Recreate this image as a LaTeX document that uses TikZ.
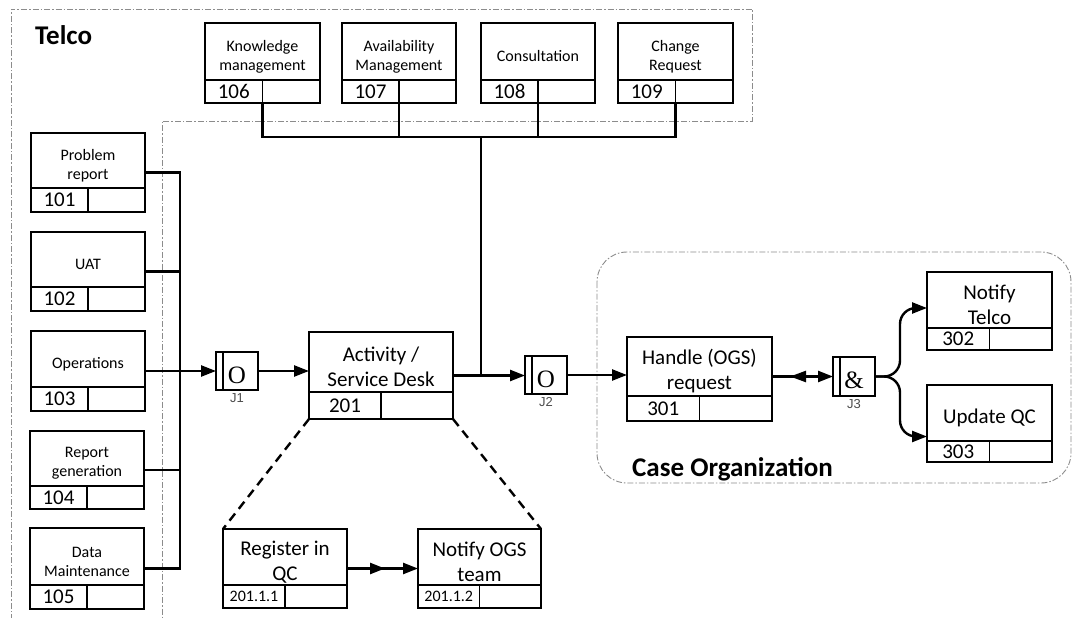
\documentclass[tikz,border=0pt]{standalone}
\usepackage{fontspec}
\setmainfont{Carlito}
\newfontfamily\jserif{Liberation Serif}
\newfontfamily\jsans{Liberation Sans}
\usetikzlibrary{arrows.meta,decorations.markings}
\newcommand\uobsmall{\fontsize{16}{19}\selectfont}
\newcommand\uobbig{\fontsize{21}{25}\selectfont}
\newcommand\uobsub{\fontsize{16}{19}\selectfont}
\tikzset{
 uob/.style={draw, line width=2.8pt, rectangle, inner sep=0pt, outer sep=0pt},
 divline/.style={line width=1.3pt},
 lab/.style={align=center, inner sep=0pt, font=\uobsmall},
 biglab/.style={lab, font=\uobbig},
 num/.style={inner sep=0pt, font=\uobbig},
 conn/.style={line width=2.4pt},
 arr/.style={-{Triangle[length=15pt,width=11pt]}},
 junc/.style={draw, line width=2.8pt, minimum width=42pt, minimum height=38pt, inner sep=0pt, outer sep=0pt},
 jsym/.style={font=\jserif\fontsize{25}{25}\selectfont, inner sep=0pt},
 jlab/.style={font=\jsans\fontsize{13}{13}\selectfont, text=black!70, inner sep=0pt, anchor=north},
 bound/.style={draw=black!45, line width=0.9pt, dash pattern=on 6pt off 2pt on 1.5pt off 2pt},
 dashln/.style={line width=2.4pt, dash pattern=on 9pt off 6pt},
 title/.style={font=\bfseries\fontsize{27}{27}\selectfont, inner sep=0pt, anchor=base west},
 markrev/.style={postaction={decorate}, decoration={markings, mark=at position #1 with {\arrowreversed{Triangle[length=16pt,width=11pt]}}}},
 markfwd/.style={postaction={decorate}, decoration={markings, mark=at position #1 with {\arrow{Triangle[length=15pt,width=11pt]}}}},
}
\newcommand\uobbox[9]{%
 \node[uob, minimum width={#4-#2}, minimum height={#5-#3}] (#1) at ({(#2+#4)/2},{(#3+#5)/2}) {};
 \draw[divline] (#2,#6) -- (#4,#6);
 \draw[divline] ({(#2+#4)/2},#6) -- (#1.south);
 \node[#7] (#1-lab) at ({(#2+#4)/2},{(#3+#6)/2+5}) {#8};
 \node[num] (#1-num) at ({(3*#2+#4)/4},{(#6+#5)/2}) {#9};
}
\begin{document}
\begin{tikzpicture}[x=1pt,y=-1pt]
\useasboundingbox (0,0) rectangle (1077,618);
% boundaries
\draw[bound] (11,620) -- (11,9) -- (752,9) -- (752,121) -- (162,121) -- (162,620);
\draw[bound, rounded corners=30pt] (597,252) rectangle (1071,483);
\node[title] (telco) at (35,45) {Telco};
\node[title] (caseorg) at (632,476) {Case Organization};
% boxes
\uobbox{b101}{31}{133}{145}{212}{188}{lab}{Problem\\report}{101}
\uobbox{b102}{31}{232}{145}{311}{287}{lab}{UAT}{102}
\uobbox{b103}{31}{331}{145}{411}{387}{lab}{Operations}{103}
\uobbox{b104}{30}{431}{144}{509}{486}{lab}{Report\\generation}{104}
\uobbox{b105}{30}{528}{144}{609}{585}{lab}{Data\\Maintenance}{105}
\uobbox{b106}{205}{23}{320}{103}{80}{lab}{Knowledge\\management}{106}
\uobbox{b107}{342}{23}{456}{103}{80}{lab}{Availability\\Management}{107}
\uobbox{b108}{481}{23}{595}{103}{80}{lab}{Consultation}{108}
\uobbox{b109}{618}{23}{733}{103}{80}{lab}{Change\\Request}{109}
\uobbox{b201}{309}{332}{453}{419}{392}{biglab}{Activity /\\Service Desk}{201}
\uobbox{b301}{627}{337}{772}{421}{396}{biglab}{Handle (OGS)\\request}{301}
\uobbox{b302}{927}{272}{1052}{350}{328}{biglab}{Notify\\Telco}{302}
\uobbox{b303}{927}{385}{1052}{462}{441}{biglab}{Update QC}{303}
\uobbox{bR}{223}{529}{347}{608}{585}{biglab}{Register in\\QC}{\uobsub 201.1.1}
\uobbox{bN}{418}{529}{541}{608}{585}{biglab}{Notify OGS\\team}{\uobsub 201.1.2}
% junctions
\node[junc] (J1) at (237,371) {};
\node[junc] (J2) at (546,375) {};
\node[junc, minimum height=39pt] (J3) at (854,376.5) {};
\foreach \j/\s in {J1/O,J2/O,J3/\&}{
 \draw[divline] ([xshift=7pt]\j.north west) -- ([xshift=7pt]\j.south west);
 \node[jsym] (\j-sym) at ([yshift=-4pt]\j.center) {\s};
 \node[jlab] (\j-lab) at ([yshift=-3pt]\j.south) {\j};
}
% connectors
\coordinate (hub) at (481,137);
\draw[conn] (b106.south) |- (hub) -| (b109.south);
\draw[conn] (b107.south) -- (b107.south |- hub);
\draw[conn] (b108.south) -- (b108.south |- hub);
\draw[conn] (hub) -- (hub |- b201.east);
\draw[conn,arr] (b201.east) -- (b201.east -| J2.west);
\coordinate (lbus) at (180,371);
\draw[conn] (b101.east) -| (lbus);
\draw[conn] (b105.east) -| (lbus);
\draw[conn] (b102.east) -- (b102.east -| lbus);
\draw[conn] (b104.east) -- (b104.east -| lbus);
\draw[conn,arr] (b103.east) -- (J1.west);
\draw[conn,arr] (J1.east) -- (J1.east -| b201.west);
\draw[conn,arr] (J2.east) -- (J2.east -| b301.west);
\draw[conn,arr,markrev=18pt] (J3.west -| b301.east) -- (J3.west);
\coordinate (fork) at (900,376.5);
\draw[conn,arr,rounded corners=16pt] (J3.east) -- (fork) |- ([yshift=3pt]b302.west);
\draw[conn,arr,rounded corners=16pt] (J3.east) -- (fork) |- ([yshift=-13pt]b303.west);
\draw[conn,arr,markfwd=38pt] (bR.east) -- (bN.west);
\draw[dashln] (b201.south west) -- (bR.north west);
\draw[dashln] (b201.south east) -- (bN.north east);
\end{tikzpicture}
\end{document}
